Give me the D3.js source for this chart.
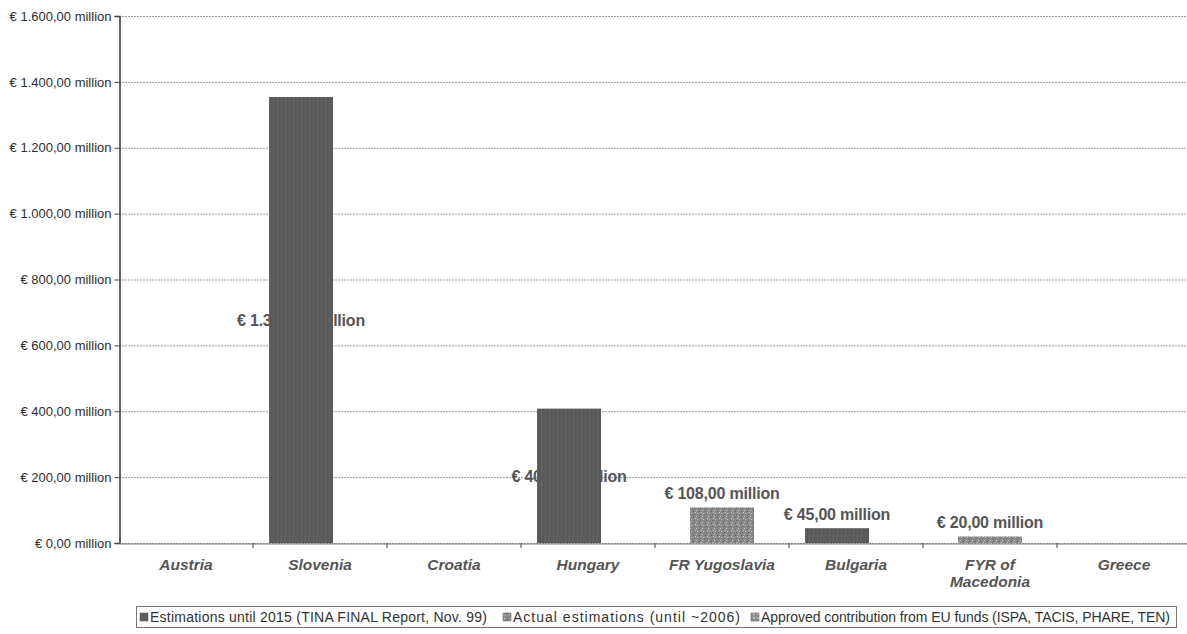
<!DOCTYPE html>
<html><head><meta charset="utf-8">
<script src="https://cdn.jsdelivr.net/npm/d3@7"></script>
<style>body{margin:0;background:#fff}svg{display:block}</style>
</head><body>
<script>
const categories = ["Austria","Slovenia","Croatia","Hungary","FR Yugoslavia","Bulgaria","FYR of\nMacedonia","Greece"];
const seriesNames = ["Estimations until 2015 (TINA FINAL Report, Nov. 99)","Actual estimations (until ~2006)","Approved contribution from EU funds (ISPA, TACIS, PHARE, TEN)"];
const estimations2015 = [null,1354,null,408,null,45,null,null];
const actualEstimations = [null,null,null,null,108,null,20,null];
const approvedEU = [null,null,null,null,null,null,null,null];
const yTicks = [0,200,400,600,800,1000,1200,1400,1600];
const labelPos = ["center","center",null,"center",null,"top",null,null]; // series 1 label placement per category
const seriesData = [estimations2015, actualEstimations, approvedEU];

const W=1187,H=634;
const m={l:119,r:-4,t:16,b:91};
const svg=d3.select("body").append("svg").attr("width",W).attr("height",H);
const defs=svg.append("defs");
const p1=defs.append("pattern").attr("id","p1").attr("width",4).attr("height",4).attr("patternUnits","userSpaceOnUse");
p1.append("rect").attr("width",4).attr("height",4).attr("fill","#595959");
p1.append("rect").attr("x",1).attr("width",1).attr("height",4).attr("fill","#636363");
const p2=defs.append("pattern").attr("id","p2").attr("width",6).attr("height",6).attr("patternUnits","userSpaceOnUse");
p2.append("rect").attr("width",6).attr("height",6).attr("fill","#8a8a8a");
[[0,0,"#c8c8c8"],[3,1,"#5e5e5e"],[1,3,"#bdbdbd"],[4,4,"#6a6a6a"],[5,2,"#d0d0d0"],[2,5,"#707070"]].forEach(([x,y,c])=>p2.append("rect").attr("x",x).attr("y",y).attr("width",1).attr("height",1).attr("fill",c));
const p3=defs.append("pattern").attr("id","p3").attr("width",4).attr("height",4).attr("patternUnits","userSpaceOnUse");
p3.append("rect").attr("width",4).attr("height",4).attr("fill","#8e8e8e");
p3.append("rect").attr("x",1).attr("y",1).attr("width",2).attr("height",2).attr("fill","#bbbbbb");
const fills=["url(#p1)","url(#p2)","url(#p3)"];

const x=d3.scaleBand().domain(categories).range([m.l,W-m.r]);
const x1=d3.scalePoint().domain([0,1,2]).range([-19,19]);
const barW=64;
const y=d3.scaleLinear().domain([0,1600]).range([H-m.b,m.t]);
const font="Liberation Sans, Arial, sans-serif";

// gridlines
svg.append("g").selectAll("line").data(yTicks).join("line")
 .attr("x1",m.l).attr("x2",W).attr("y1",d=>y(d)+0.5).attr("y2",d=>y(d)+0.5)
 .attr("stroke","#999").attr("stroke-width",1).attr("stroke-dasharray","2,1");

// y axis
const fmt=v=>"€ "+d3.format(",.2f")(v).replace(/,/g,"#").replace(".",",").replace(/#/g,".")+" million";
const ya=svg.append("g").attr("transform",`translate(${m.l+0.5},0)`).call(d3.axisLeft(y).tickValues(yTicks).tickSize(5).tickPadding(3).tickFormat(fmt));
ya.select(".domain").attr("stroke","#333").attr("stroke-width",1.5);
ya.selectAll(".tick line").attr("stroke","#444");
ya.selectAll("text").attr("font-family",font).attr("font-size",13).attr("fill","#2e2e2e");

// x axis
const xa=svg.append("g").attr("transform",`translate(0,${y(0)+0.5})`).call(d3.axisBottom(x).tickSize(0).tickFormat(""));
xa.select(".domain").attr("stroke","#777");
svg.append("g").selectAll("line").data(categories.slice(1)).join("line")
 .attr("x1",d=>x(d)).attr("x2",d=>x(d)).attr("y1",y(0)).attr("y2",y(0)+5).attr("stroke","#444");
const xl=svg.append("g").selectAll("text").data(categories).join("text")
 .attr("x",d=>x(d)+x.bandwidth()/2).attr("y",y(0)+27).attr("text-anchor","middle")
 .attr("font-family",font).attr("font-size",15.5).attr("font-weight","bold").attr("font-style","italic").attr("fill","#555");
xl.each(function(d){const t=d3.select(this);d.split("\n").forEach((s,i)=>t.append("tspan").attr("x",x(d)+x.bandwidth()/2).attr("dy",i?17:0).text(s));});

const allBars=[];
seriesData.forEach((arr,s)=>arr.forEach((v,i)=>{if(v!=null)allBars.push({s,i,v,c:categories[i],pos:(s===0&&labelPos[i]==="center")?"center":"top"});}));
const cxOf=b=>x(b.c)+x.bandwidth()/2+x1(b.s);
const labStyle=sel=>sel.attr("text-anchor","middle").attr("font-family",font).attr("font-size",16).attr("font-weight","bold").attr("fill","#555").attr("letter-spacing",-0.2).text(d=>fmt(d.v));

// center labels first (covered by bars, as in the original)
svg.append("g").selectAll("text").data(allBars.filter(b=>b.pos==="center")).join("text")
 .attr("x",cxOf).attr("y",d=>(y(d.v)+y(0))/2+6).call(labStyle);
// bars
svg.append("g").selectAll("rect").data(allBars).join("rect")
 .attr("x",d=>cxOf(d)-barW/2).attr("width",barW)
 .attr("y",d=>y(d.v)).attr("height",d=>y(0)-y(d.v)).attr("fill",d=>fills[d.s]);
// outside-end labels
svg.append("g").selectAll("text").data(allBars.filter(b=>b.pos==="top")).join("text")
 .attr("x",cxOf).attr("y",d=>y(d.v)-8).call(labStyle);

// legend
const lg=svg.append("g");
lg.append("rect").attr("x",136.5).attr("y",606.5).attr("width",1040).attr("height",21).attr("fill","#fff").attr("stroke","#777");
const itemStart=[140,503,751];
const itemLen=[337,227,409];
seriesNames.forEach((n,s)=>{
  const lx=itemStart[s];
  lg.append("rect").attr("x",lx).attr("y",613).attr("width",8).attr("height",8).attr("fill",fills[s]).attr("stroke","#555").attr("stroke-width",0.5);
  lg.append("text").attr("x",lx+10).attr("y",622).attr("font-family",font).attr("font-size",14).attr("fill","#333")
    .attr("textLength",itemLen[s]).attr("lengthAdjust","spacing").text(n);
});
</script>
</body></html>
